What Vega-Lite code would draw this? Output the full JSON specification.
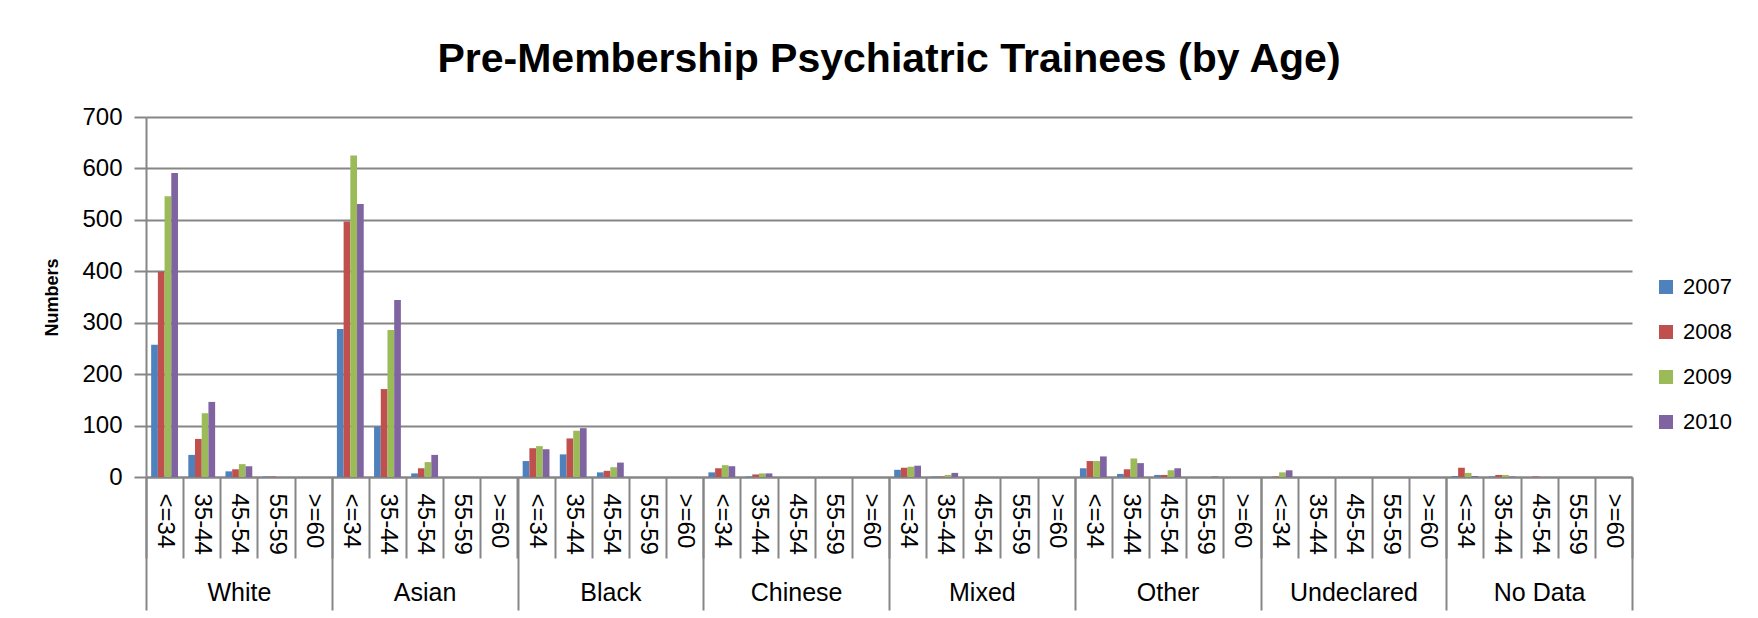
{
  "$schema": "https://vega.github.io/schema/vega-lite/v6.json",
  "width": 1486,
  "height": 360,
  "autosize": {"type": "none"},
  "padding": {"left": 146, "top": 117, "right": 126, "bottom": 141},
  "background": "white",
  "config": {"font": "Liberation Sans", "view": {"stroke": null}},
  "title": {"text": "Pre-Membership Psychiatric Trainees (by Age)", "font": "Liberation Sans", "fontSize": 41, "fontWeight": "bold", "color": "black", "anchor": "middle", "offset": 24},
  "data": {"values": [
    {"e": "White", "a": "<=34", "k": "White|<=34", "2007": 257, "2008": 399, "2009": 546, "2010": 591},
    {"e": "White", "a": "35-44", "k": "White|35-44", "2007": 43, "2008": 74, "2009": 124, "2010": 146},
    {"e": "White", "a": "45-54", "k": "White|45-54", "2007": 11, "2008": 15, "2009": 25, "2010": 21},
    {"e": "White", "a": "55-59", "k": "White|55-59", "2007": 1, "2008": 1, "2009": 0, "2010": 0},
    {"e": "White", "a": ">=60", "k": "White|>=60", "2007": 0, "2008": 0, "2009": 0, "2010": 0},
    {"e": "Asian", "a": "<=34", "k": "Asian|<=34", "2007": 288, "2008": 497, "2009": 625, "2010": 531},
    {"e": "Asian", "a": "35-44", "k": "Asian|35-44", "2007": 98, "2008": 171, "2009": 286, "2010": 344},
    {"e": "Asian", "a": "45-54", "k": "Asian|45-54", "2007": 7, "2008": 17, "2009": 29, "2010": 43},
    {"e": "Asian", "a": "55-59", "k": "Asian|55-59", "2007": 0, "2008": 0, "2009": 0, "2010": 0},
    {"e": "Asian", "a": ">=60", "k": "Asian|>=60", "2007": 0, "2008": 0, "2009": 0, "2010": 0},
    {"e": "Black", "a": "<=34", "k": "Black|<=34", "2007": 31, "2008": 56, "2009": 60, "2010": 54},
    {"e": "Black", "a": "35-44", "k": "Black|35-44", "2007": 44, "2008": 75, "2009": 90, "2010": 95},
    {"e": "Black", "a": "45-54", "k": "Black|45-54", "2007": 9, "2008": 12, "2009": 19, "2010": 28},
    {"e": "Black", "a": "55-59", "k": "Black|55-59", "2007": 0, "2008": 0, "2009": 0, "2010": 0},
    {"e": "Black", "a": ">=60", "k": "Black|>=60", "2007": 0, "2008": 0, "2009": 0, "2010": 0},
    {"e": "Chinese", "a": "<=34", "k": "Chinese|<=34", "2007": 9, "2008": 17, "2009": 23, "2010": 21},
    {"e": "Chinese", "a": "35-44", "k": "Chinese|35-44", "2007": 1, "2008": 5, "2009": 7, "2010": 7},
    {"e": "Chinese", "a": "45-54", "k": "Chinese|45-54", "2007": 0, "2008": 0, "2009": 0, "2010": 0},
    {"e": "Chinese", "a": "55-59", "k": "Chinese|55-59", "2007": 0, "2008": 0, "2009": 0, "2010": 0},
    {"e": "Chinese", "a": ">=60", "k": "Chinese|>=60", "2007": 0, "2008": 0, "2009": 0, "2010": 0},
    {"e": "Mixed", "a": "<=34", "k": "Mixed|<=34", "2007": 14, "2008": 18, "2009": 20, "2010": 22},
    {"e": "Mixed", "a": "35-44", "k": "Mixed|35-44", "2007": 1, "2008": 1, "2009": 4, "2010": 8},
    {"e": "Mixed", "a": "45-54", "k": "Mixed|45-54", "2007": 0, "2008": 0, "2009": 0, "2010": 0},
    {"e": "Mixed", "a": "55-59", "k": "Mixed|55-59", "2007": 0, "2008": 0, "2009": 0, "2010": 0},
    {"e": "Mixed", "a": ">=60", "k": "Mixed|>=60", "2007": 0, "2008": 0, "2009": 0, "2010": 0},
    {"e": "Other", "a": "<=34", "k": "Other|<=34", "2007": 17, "2008": 31, "2009": 31, "2010": 40},
    {"e": "Other", "a": "35-44", "k": "Other|35-44", "2007": 6, "2008": 15, "2009": 36, "2010": 27},
    {"e": "Other", "a": "45-54", "k": "Other|45-54", "2007": 4, "2008": 4, "2009": 13, "2010": 17},
    {"e": "Other", "a": "55-59", "k": "Other|55-59", "2007": 0, "2008": 0, "2009": 0, "2010": 1},
    {"e": "Other", "a": ">=60", "k": "Other|>=60", "2007": 0, "2008": 0, "2009": 0, "2010": 0},
    {"e": "Undeclared", "a": "<=34", "k": "Undeclared|<=34", "2007": 0, "2008": 1, "2009": 9, "2010": 13},
    {"e": "Undeclared", "a": "35-44", "k": "Undeclared|35-44", "2007": 0, "2008": 0, "2009": 0, "2010": 0},
    {"e": "Undeclared", "a": "45-54", "k": "Undeclared|45-54", "2007": 0, "2008": 0, "2009": 0, "2010": 0},
    {"e": "Undeclared", "a": "55-59", "k": "Undeclared|55-59", "2007": 0, "2008": 0, "2009": 0, "2010": 0},
    {"e": "Undeclared", "a": ">=60", "k": "Undeclared|>=60", "2007": 0, "2008": 0, "2009": 0, "2010": 0},
    {"e": "No Data", "a": "<=34", "k": "No Data|<=34", "2007": 2, "2008": 18, "2009": 8, "2010": 2},
    {"e": "No Data", "a": "35-44", "k": "No Data|35-44", "2007": 1, "2008": 4, "2009": 4, "2010": 1},
    {"e": "No Data", "a": "45-54", "k": "No Data|45-54", "2007": 0, "2008": 1, "2009": 0, "2010": 0},
    {"e": "No Data", "a": "55-59", "k": "No Data|55-59", "2007": 0, "2008": 0, "2009": 0, "2010": 0},
    {"e": "No Data", "a": ">=60", "k": "No Data|>=60", "2007": 0, "2008": 0, "2009": 0, "2010": 0}
  ]},
  "transform": [{"fold": ["2007", "2008", "2009", "2010"], "as": ["year", "value"]}],
  "layer": [
    {
      "mark": {"type": "bar"},
      "encoding": {
        "x": {"field": "k", "type": "nominal", "sort": null,
          "scale": {"paddingInner": 0, "paddingOuter": 0},
          "axis": {"title": null, "labelExpr": "split(datum.label, '|')[1]", "labelAngle": 90, "labelAlign": "left", "labelBaseline": "middle", "labelFontSize": 24, "labelColor": "black", "labelPadding": -65, "tickBand": "extent", "tickSize": 81, "tickColor": "#868686", "tickWidth": 2, "domainColor": "#868686", "domainWidth": 2, "labelOverlap": false}},
        "xOffset": {"field": "year", "type": "nominal", "scale": {"paddingInner": 0, "paddingOuter": 0.77}},
        "y": {"field": "value", "type": "quantitative", "scale": {"domain": [0, 700]},
          "axis": {"title": "Numbers", "titleFontSize": 18, "titleFontWeight": "bold", "titleColor": "black", "titlePadding": 20, "values": [0, 100, 200, 300, 400, 500, 600, 700], "grid": true, "gridColor": "#868686", "gridWidth": 2, "tickSize": 12, "tickColor": "#868686", "tickWidth": 2, "labelFontSize": 24, "labelColor": "black", "labelPadding": 12, "domainColor": "#868686", "domainWidth": 2}},
        "color": {"field": "year", "type": "nominal",
          "scale": {"domain": ["2007", "2008", "2009", "2010"], "range": ["#4F81BD", "#C0504D", "#9BBB59", "#8064A2"]},
          "legend": {"title": null, "orient": "none", "legendX": 1509, "legendY": 159, "symbolType": "square", "symbolSize": 196, "symbolStrokeWidth": 0, "labelFontSize": 22, "labelColor": "black", "labelOffset": 6, "rowPadding": 23, "padding": 0}}
      }
    },
    {
      "mark": {"type": "bar", "opacity": 0},
      "encoding": {
        "x": {"field": "e", "type": "nominal", "sort": null,
          "scale": {"paddingInner": 0, "paddingOuter": 0},
          "axis": {"orient": "bottom", "title": null, "domain": false, "tickBand": "extent", "tickSize": 133, "tickColor": "#868686", "tickWidth": 2, "labelFontSize": 25, "labelColor": "black", "labelAngle": 0, "labelBaseline": "top", "labelPadding": -30}},
        "y": {"datum": 0}
      }
    }
  ],
  "resolve": {"scale": {"x": "independent"}, "axis": {"x": "independent"}}
}
